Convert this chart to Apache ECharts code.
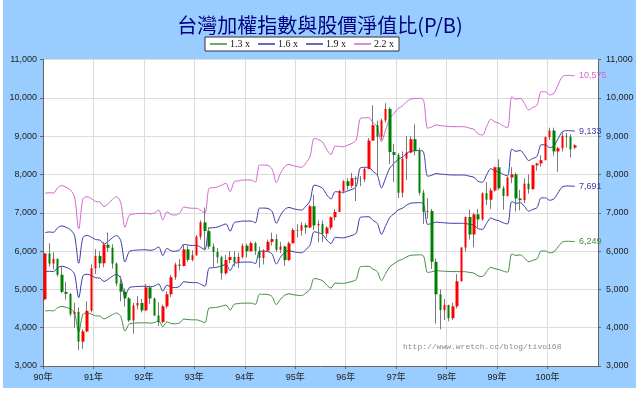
<!DOCTYPE html>
<html><head><meta charset="utf-8">
<script src="https://cdn.jsdelivr.net/npm/echarts@6/dist/echarts.min.js"></script>
<style>
html,body{margin:0;padding:0;background:#fff;}
#wrap{position:relative;width:640px;height:393px;background:#fff;}
#bg{position:absolute;left:3px;top:0;width:633px;height:388px;background:#99ccff;}
#c{position:absolute;left:0;top:0;width:640px;height:393px;}
</style>
</head><body><div id="wrap"><div id="bg"></div><div id="c"></div></div>
<script>
// ---- data (monthly, 90年01 .. 100年07) ----
const monthCount = 127;        // number of monthly candles
const yearTicks = ['90年','91年','92年','93年','94年','95年','96年','97年','98年','99年','100年'];

const openVals = [
 4743,5936,5674,5797,5381,4935,4883,4352,4414,3636,3903,4441,
 5551,5873,5680,6167,6085,5675,5153,4940,4764,4191,4579,4646,
 4452,5051,4763,4321,4148,4556,4872,5318,5650,5611,6045,5771,
 5890,6375,6750,6522,6117,5977,5839,5420,5766,5845,5706,5845,
 6140,5994,6207,6005,5819,6011,6241,6312,6034,6119,5764,6203,
 6548,6532,6677,6614,7171,6670,6704,6455,6611,6883,7021,7567,
 7823,7701,7902,7884,7875,8145,8884,9287,8982,9411,9711,8586,
 8506,7522,8413,8572,8920,8619,7524,7024,7046,5720,4870,4460,
 4591,4248,4557,5211,6092,6890,6432,6958,6826,7509,7340,7582,
 8188,7640,7436,7920,8004,7374,7329,7761,7616,8238,8287,8372,
 8973,9145,8600,8683,9008,8989,8700];
const closeVals = [
 5936,5674,5797,5381,4935,4883,4352,4414,3636,3903,4441,5551,
 5873,5680,6167,6085,5675,5153,4940,4764,4191,4579,4646,4452,
 5051,4763,4321,4148,4556,4872,5318,5650,5611,6045,5771,5890,
 6375,6750,6522,6117,5977,5839,5420,5766,5845,5706,5845,6140,
 5994,6207,6005,5819,6011,6241,6312,6034,6119,5764,6203,6548,
 6532,6677,6614,7171,6670,6704,6455,6611,6883,7021,7567,7823,
 7701,7902,7884,7875,8145,8884,9287,8982,9411,9711,8586,8506,
 7522,8413,8572,8920,8619,7524,7024,7046,5720,4870,4460,4591,
 4248,4557,5211,6092,6890,6432,6958,6826,7509,7340,7582,8188,
 7640,7436,7920,8004,7374,7329,7761,7616,8238,8287,8372,8973,
 9145,8600,8683,9008,8989,8653,8760];
const highVals = [
 5950,6204,5970,5800,5580,5200,4900,4650,4530,3960,4690,5650,
 6050,6000,6240,6484,6180,5700,5350,5020,4800,4650,4820,4750,
 5141,5100,4780,4660,4600,4950,5380,5700,5790,6180,6130,6020,
 6420,6800,7135,6620,6200,6080,5880,5900,6000,6000,5960,6200,
 6190,6250,6240,6110,6050,6300,6480,6440,6240,6140,6250,6600,
 6700,6750,6730,7200,7475,6800,6800,6650,6900,7100,7600,7850,
 7900,8040,7950,7960,8200,8950,9807,9400,9450,9859,9750,8800,
 8560,8600,9000,9000,9309,8700,7600,7380,7100,5800,5000,4750,
 4600,4650,5400,6100,6900,7083,7000,7100,7530,7800,7650,8200,
 8395,7700,7950,8190,8050,7600,7900,8000,8250,8300,8500,8990,
 9220,9220,8720,9100,9085,9050,8790];
const lowVals = [
 4717,5600,5520,5330,4900,4730,4300,4000,3411,3446,3880,4400,
 5400,5560,5580,5980,5540,5080,4690,4550,4150,3845,4480,4400,
 4430,4620,4300,4044,4110,4500,4800,5250,5500,5600,5720,5730,
 5880,6300,6020,6050,5590,5680,5255,5380,5680,5600,5560,5800,
 5830,5990,5900,5565,5650,5990,6150,5980,5950,5620,5740,6200,
 6350,6400,6450,6600,6550,6230,6232,6350,6550,6800,7020,7500,
 7600,7650,7306,7690,7800,8140,8880,7987,8900,9350,8270,7800,
 7384,7400,7850,8550,8500,7450,6708,6850,5530,4110,3955,4200,
 4164,4200,4500,5200,5990,6300,6100,6620,6790,7200,7100,7550,
 7600,7080,7420,7770,7032,7060,7250,7500,7600,8100,8200,8370,
 8900,8490,8070,8600,8700,8450,8660];
// index book value (points) read from the P/B bands
const bookValue = [
 3412,3420,3415,3480,3503,3484,3452,3372,2990,3345,3372,3350,
 3315,3310,3254,3290,3340,3372,3300,3009,3150,3167,3172,3175,
 3175,3168,3180,3214,3096,3194,3160,3155,3175,3250,3240,3235,
 3235,3210,3175,3472,3479,3488,3510,3531,3431,3550,3560,3570,
 3570,3570,3545,3748,3748,3743,3700,3540,3650,3730,3757,3740,
 3728,3721,3772,3847,4065,4050,4020,3930,3873,3974,3968,3966,
 3985,4005,4045,4302,4308,4310,4250,4203,4025,4164,4300,4361,
 4421,4450,4500,4531,4536,4540,4519,4185,4200,4223,4215,4211,
 4205,4203,4203,4203,4200,4185,4172,4116,4104,4203,4290,4260,
 4243,4210,4191,4559,4528,4540,4480,4401,4430,4460,4618,4618,
 4579,4599,4700,4796,4812,4810,4807];
const multiples = [1.3, 1.6, 1.9, 2.2];
const bandNames = ['1.3 x', '1.6 x', '1.9 x', '2.2 x'];
const bandColors = ['#3f8f3f', '#3a3aa8', '#3a3aa8', '#d066d0'];

// ---- build ----
const idx = [...Array(monthCount).keys()];
const fmt = v => Math.round(v).toLocaleString('en-US');
const wickData = idx.map(i => [i + 0.5, openVals[i], closeVals[i], lowVals[i], highVals[i]]);
const bodyData = idx.map(i => [i + 0.5, openVals[i], closeVals[i],
  Math.min(openVals[i], closeVals[i]), Math.max(openVals[i], closeVals[i])]);

const lineSeries = multiples.map((m, k) => ({
  name: bandNames[k], type: 'line', symbol: 'none', showSymbol: false, smooth: 0.3, z: 2,
  data: idx.map(i => [i + 0.5, bookValue[i] * m]),
  lineStyle: { color: bandColors[k], width: 1 },
  itemStyle: { color: bandColors[k] },
  endLabel: { show: true, formatter: p => fmt(p.value[1]), color: bandColors[k],
    fontSize: 9, fontFamily: 'Liberation Sans, Arial, sans-serif', distance: 4 },
  emphasis: { disabled: true }
}));

const yAxisBase = {
  type: 'value', min: 3000, max: 11000, interval: 1000,
  axisLine: { show: true, lineStyle: { color: '#666', width: 1 } },
  axisTick: { show: true, length: 3, lineStyle: { color: '#666' } },
  splitLine: { show: false },
  axisLabel: { formatter: v => fmt(v), color: '#222', fontSize: 9,
    fontFamily: 'Liberation Sans, Arial, sans-serif' }
};

const chart = echarts.init(document.getElementById('c'), null, { renderer: 'canvas' });
chart.setOption({
  animation: false,
  backgroundColor: 'transparent',
  title: {
    text: '台灣加權指數與股價淨值比(P/B)', left: 'center', top: 10,
    textStyle: { color: '#000080', fontSize: 20, fontWeight: 'normal',
      fontFamily: 'Noto Sans CJK TC, sans-serif' }
  },
  legend: {
    data: bandNames.map((n, k) => ({ name: n, icon: 'rect', itemStyle: { color: bandColors[k] } })),
    left: 205, top: 37, orient: 'horizontal',
    backgroundColor: '#fff', borderColor: '#333', borderWidth: 1,
    padding: [2, 5, 2, 5], itemGap: 8, itemWidth: 17, itemHeight: 1.5,
    textStyle: { fontSize: 10, color: '#111', fontFamily: 'Liberation Serif, serif', padding: [0, 0, 0, -2] },
    selectedMode: false
  },
  grid: { left: 43, right: 42, top: 59.5, bottom: 27, show: true,
    backgroundColor: '#fff', borderWidth: 0 },
  xAxis: {
    type: 'value', min: 0, max: 132, interval: 12,
    axisLine: { show: true, onZero: false, lineStyle: { color: '#666' } },
    axisTick: { show: true, length: 3, lineStyle: { color: '#666' } },
    splitLine: { show: true, lineStyle: { color: '#dcdcdc', width: 1 } },
    axisLabel: { formatter: v => yearTicks[v / 12] || '', showMaxLabel: false,
      color: '#222', fontSize: 9, margin: 7,
      fontFamily: 'Liberation Sans, Noto Sans CJK TC, sans-serif' }
  },
  yAxis: [
    Object.assign({}, yAxisBase, { position: 'left',
      splitLine: { show: true, lineStyle: { color: '#dcdcdc', width: 1 } },
      axisLabel: Object.assign({}, yAxisBase.axisLabel, { margin: 6 }) }),
    Object.assign({}, yAxisBase, { position: 'right',
      axisLabel: Object.assign({}, yAxisBase.axisLabel, { margin: 8 }) })
  ],
  graphic: [{
    type: 'text', left: 403, top: 343, z: 1, silent: true,
    style: { text: 'http://www.wretch.cc/blog/tivo168', fill: '#8a8a8a',
      font: '8px "Liberation Mono", monospace' }
  }],
  series: lineSeries.concat([
    { name: 'wick', type: 'candlestick', data: wickData, encode: { x: 0, y: [1, 2, 3, 4] },
      barWidth: 1, z: 3,
      itemStyle: { color: '#7a7a7a', color0: '#7a7a7a', borderColor: '#7a7a7a', borderColor0: '#7a7a7a', borderWidth: 1 },
      emphasis: { disabled: true } },
    { name: 'body', type: 'candlestick', data: bodyData, encode: { x: 0, y: [1, 2, 3, 4] },
      barWidth: 3, z: 4,
      itemStyle: { color: '#ff0000', color0: '#008000', borderColor: '#ff0000', borderColor0: '#008000', borderWidth: 0 },
      emphasis: { disabled: true } }
  ])
});
</script>
</body></html>
